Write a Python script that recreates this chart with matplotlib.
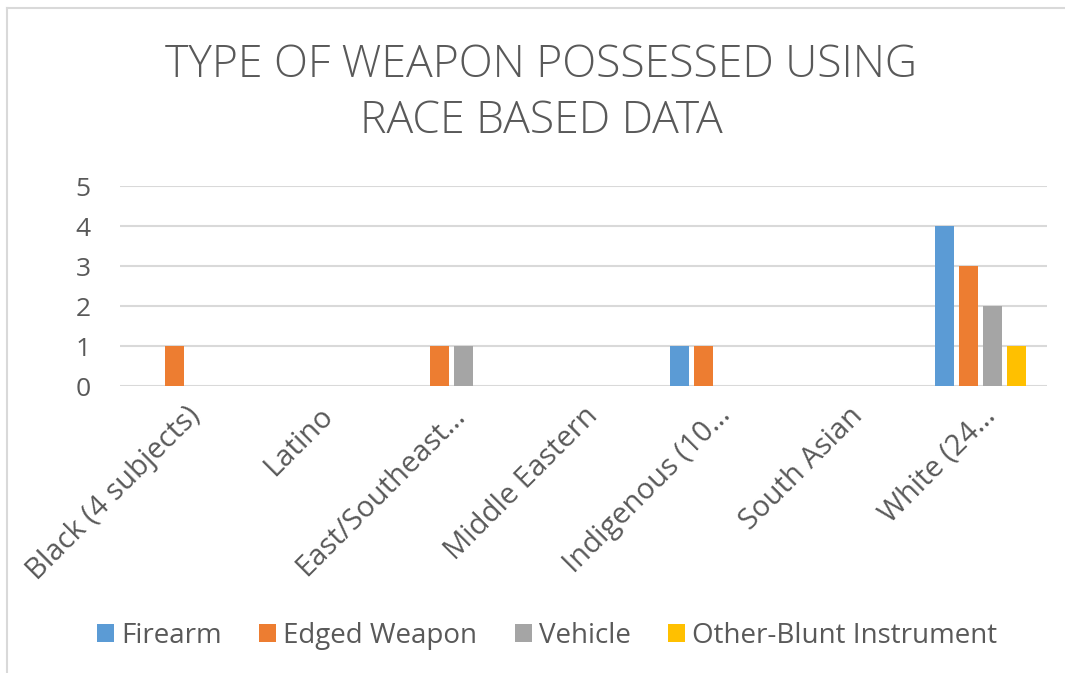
import matplotlib
matplotlib.use("Agg")
import matplotlib.pyplot as plt
from matplotlib.patches import Patch
from matplotlib.lines import Line2D
import numpy as np

categories = ["Black (4 subjects)", "Latino", "East/Southeast…", "Middle Eastern",
              "Indigenous (10…", "South Asian", "White (24…"]
series_names = ["Firearm", "Edged Weapon", "Vehicle", "Other-Blunt Instrument"]
firearm = [0, 0, 0, 0, 1, 0, 4]
edged_weapon = [1, 0, 1, 0, 1, 0, 3]
vehicle = [0, 0, 1, 0, 0, 0, 2]
other_blunt = [0, 0, 0, 0, 0, 0, 1]
yticks = [0, 1, 2, 3, 4, 5]

colors = ["#5B9BD5", "#ED7D31", "#A5A5A5", "#FFC000"]
text_color = "#595959"
grid_color = "#D9D9D9"
font = "Open Sans"

W, H = 1065, 673
fig = plt.figure(figsize=(W / 100, H / 100), dpi=100)
fig.patch.set_facecolor("white")

# chart-area frame (top and left edges visible)
fig.add_artist(Line2D([7 / W, 7 / W], [0, 1 - 8 / H], transform=fig.transFigure,
                      color=grid_color, lw=1.5))
fig.add_artist(Line2D([7 / W, 1], [1 - 8 / H, 1 - 8 / H], transform=fig.transFigure,
                      color=grid_color, lw=1.5))

left, right, top, bottom = 120, 1047, 186, 386
ax = fig.add_axes([left / W, (H - bottom) / H, (right - left) / W, (bottom - top) / H])
ax.set_xlim(0, len(categories))
ax.set_ylim(0, 5)

values = [firearm, edged_weapon, vehicle, other_blunt]
x = np.arange(len(categories)) + 0.5
bar_w = 19 / 132.4
pitch = 24 / 132.4
for i, (vals, c, name) in enumerate(zip(values, colors, series_names)):
    ax.bar(x + (i - 1.5) * pitch, vals, width=bar_w, color=c, label=name, zorder=3)

for spine in ax.spines.values():
    spine.set_visible(False)
ax.set_yticks(yticks)
ax.yaxis.grid(True, color=grid_color, lw=1.5, zorder=0)
ax.tick_params(axis="y", length=0, pad=21, labelsize=19, labelcolor=text_color)
for lbl in ax.get_yticklabels():
    lbl.set_fontfamily(font)

ax.set_xticks(x)
ax.set_xticklabels(categories, rotation=45, ha="right", va="top",
                   rotation_mode="anchor", fontsize=21, color=text_color,
                   fontfamily=font)
ax.tick_params(axis="x", length=0, pad=11)

fig.text(541 / W, 1 - 94 / H, "TYPE OF WEAPON POSSESSED USING\nRACE BASED DATA",
         ha="center", va="center", fontsize=32, color=text_color, fontfamily=font,
         fontweight="light", linespacing=1.35)

handles = [Patch(facecolor=c, label=n) for c, n in zip(colors, series_names)]
leg = fig.legend(handles=handles, loc="center", bbox_to_anchor=(547 / W, 1 - 636 / H),
                 ncol=4, frameon=False, handlelength=0.62, handleheight=0.62,
                 handletextpad=0.25, columnspacing=1.35, borderpad=0,
                 prop={"family": font, "size": 20})
for t in leg.get_texts():
    t.set_color(text_color)

fig.savefig("out.png", dpi=100, facecolor="white")
